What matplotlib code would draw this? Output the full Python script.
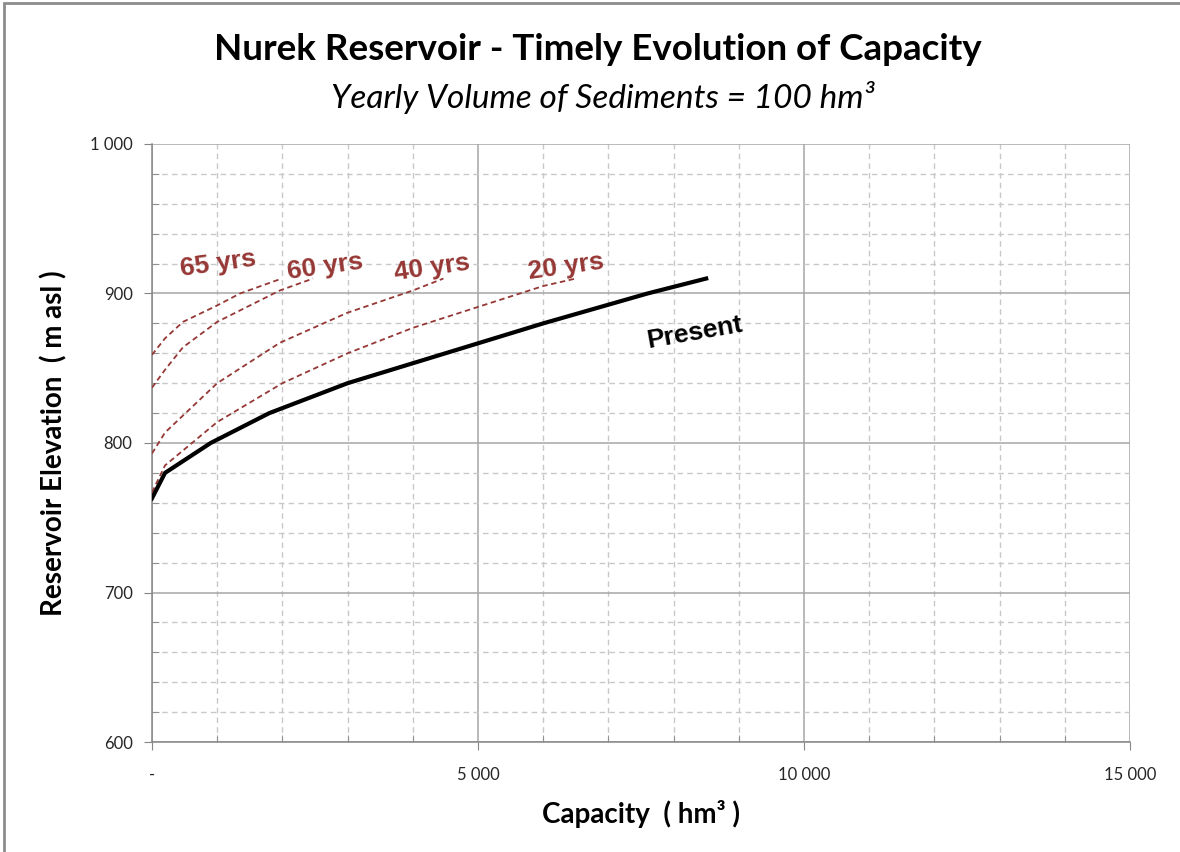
import matplotlib
matplotlib.use("Agg")
import matplotlib.pyplot as plt
from matplotlib.ticker import MultipleLocator, FuncFormatter
from matplotlib.patches import Rectangle

# Capacity (hm3) vs reservoir elevation (m asl)
present_cap = [0, 200, 900, 1800, 3000, 4500, 6000, 7600, 8500]
present_elev = [763, 780, 800, 820, 840, 860, 880, 900, 910]

yrs20_cap = [0, 200, 1000, 2000, 3000, 4000, 5000, 6000, 6500]
yrs20_elev = [767, 785, 814, 840, 860, 877, 891, 905, 910]

yrs40_cap = [0, 200, 1000, 1960, 2990, 4000, 4470]
yrs40_elev = [793, 807, 840, 867, 887, 902, 910]

yrs60_cap = [0, 200, 475, 1000, 1960, 2470]
yrs60_elev = [837, 849, 864, 881, 902, 910]

yrs65_cap = [0, 200, 475, 1000, 1350, 1990]
yrs65_elev = [859, 870, 881, 892, 900, 910]

labels = ["65 yrs", "60 yrs", "40 yrs", "20 yrs", "Present"]
label_x = [1010, 2650, 4300, 6350, 8330]
label_y = [920, 918, 917, 918, 874]
label_rot = [8, 8, 8, 8, 10]

red = "#953735"

fig = plt.figure(figsize=(11.8, 8.52), dpi=100)
ax = fig.add_axes([0.1288, 0.1291, 0.8288, 0.7019])

# chart frame (only left and top edges are visible in the crop)
fig.patches.append(Rectangle((0.003, -0.05), 1.1, 1.047, transform=fig.transFigure,
                             fill=False, edgecolor="#8c8c8c", linewidth=2))

for c, e in [(yrs65_cap, yrs65_elev), (yrs60_cap, yrs60_elev),
             (yrs40_cap, yrs40_elev), (yrs20_cap, yrs20_elev)]:
    ax.plot(c, e, color=red, linestyle=(0, (3, 2)), linewidth=1.3, zorder=3)
ax.plot(present_cap, present_elev, color="black", linewidth=3, zorder=4)

for i, t in enumerate(labels):
    ax.text(label_x[i], label_y[i], t, color=red if i < 4 else "black",
            fontsize=19, fontweight="bold", family="Liberation Sans",
            rotation=label_rot[i], ha="center", va="center", zorder=5)

ax.set_xlim(0, 15000)
ax.set_ylim(600, 1000)
ax.xaxis.set_major_locator(MultipleLocator(5000))
ax.xaxis.set_minor_locator(MultipleLocator(1000))
ax.yaxis.set_major_locator(MultipleLocator(100))
ax.yaxis.set_minor_locator(MultipleLocator(20))

def thousands(v, pos):
    if v == 0:
        return "-"
    return "{:,.0f}".format(v).replace(",", " ")

ax.xaxis.set_major_formatter(FuncFormatter(thousands))
ax.yaxis.set_major_formatter(FuncFormatter(thousands))

ax.grid(which="major", color="#a6a6a6", linewidth=1.1, linestyle="-")
ax.grid(which="minor", color="#c8c8c8", linewidth=1, linestyle=(0, (4, 3)))
ax.set_axisbelow(True)

for s in ["top", "right"]:
    ax.spines[s].set_visible(False)
for s in ["left", "bottom"]:
    ax.spines[s].set_color("#868686")
    ax.spines[s].set_linewidth(1.1)

ax.tick_params(which="major", direction="out", length=6, color="#868686",
               labelsize=12, labelcolor="#262626", pad=12)
ax.tick_params(which="minor", direction="in", length=5, color="#868686")
for lab in ax.get_xticklabels() + ax.get_yticklabels():
    lab.set_family("Lato")
ax.tick_params(axis="y", pad=8)

ax.set_xlabel("Capacity  ( hm³ )", fontsize=20, fontweight="bold",
              family="Lato", labelpad=12)
ax.set_ylabel("Reservoir Elevation  ( m asl )", fontsize=20, fontweight="bold",
              family="Lato", labelpad=16)

fig.text(0.507, 0.942, "Nurek Reservoir - Timely Evolution of Capacity",
         ha="center", va="center", fontsize=26.5, fontweight="bold", family="Lato")
fig.text(0.511, 0.886, "Yearly Volume of Sediments = 100 hm³",
         ha="center", va="center", fontsize=24, style="italic", family="Lato")

fig.savefig("out.png", dpi=100)
